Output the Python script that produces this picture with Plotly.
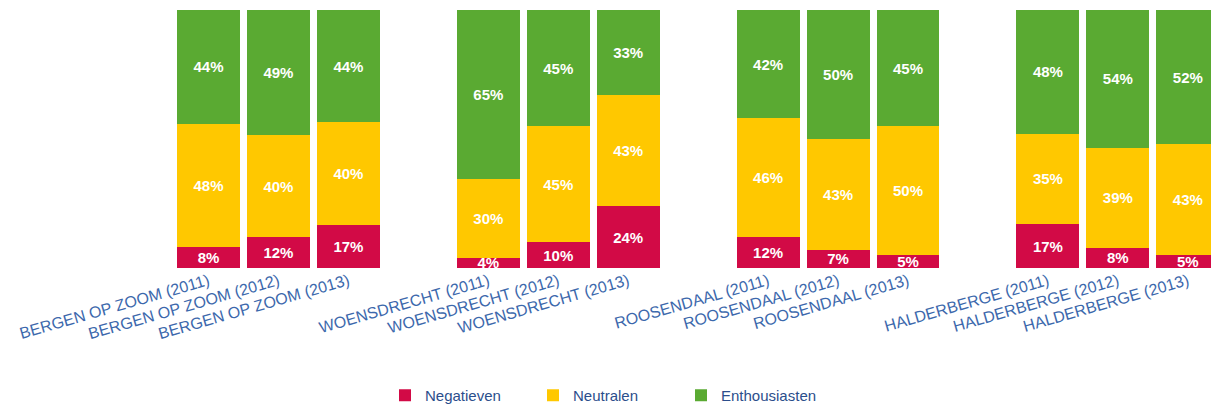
import plotly.graph_objects as go

categories = [
    "BERGEN OP ZOOM (2011)", "BERGEN OP ZOOM (2012)", "BERGEN OP ZOOM (2013)",
    "WOENSDRECHT (2011)", "WOENSDRECHT (2012)", "WOENSDRECHT (2013)",
    "ROOSENDAAL (2011)", "ROOSENDAAL (2012)", "ROOSENDAAL (2013)",
    "HALDERBERGE (2011)", "HALDERBERGE (2012)", "HALDERBERGE (2013)",
]
# slot index of each bar (an empty slot separates the municipalities)
slots = [0, 1, 2, 4, 5, 6, 8, 9, 10, 12, 13, 14]

negatieven = [8, 12, 17, 4, 10, 24, 12, 7, 5, 17, 8, 5]
neutralen = [48, 40, 40, 30, 45, 43, 46, 43, 50, 35, 39, 43]
enthousiasten = [44, 49, 44, 65, 45, 33, 42, 50, 45, 48, 54, 52]

series = [
    ("Negatieven", negatieven, "#D20A46"),
    ("Neutralen", neutralen, "#FFC800"),
    ("Enthousiasten", enthousiasten, "#5AAA32"),
]

fig = go.Figure()
for name, vals, color in series:
    fig.add_trace(go.Bar(
        x=slots, y=vals, name=name,
        marker=dict(color=color, line=dict(width=0)),
        width=0.9,
        text=[f"{v}%" for v in vals],
        texttemplate="%{text}",
        textposition="inside",
        insidetextanchor="middle",
        constraintext="none",
        textangle=0,
        textfont=dict(color="white", size=15, family="Liberation Sans, Arial", weight="bold"),
        cliponaxis=True,
        hoverinfo="skip",
    ))

fig.update_layout(
    barmode="stack",
    barnorm="percent",
    width=1211, height=412,
    margin=dict(l=0, r=0, t=10, b=140),
    paper_bgcolor="white", plot_bgcolor="white",
    font=dict(family="Liberation Sans, Arial"),
    xaxis=dict(
        tickmode="array", tickvals=slots, ticktext=categories,
        tickangle=-16, ticks="", showline=False, showgrid=False, zeroline=False,
        range=[-208.5 / 69.95, (1211 - 208.5) / 69.95],
        tickfont=dict(size=16, color="#3C68AC"),
    ),
    yaxis=dict(visible=False, range=[0, 100]),
    legend=dict(
        orientation="h", x=607 / 1211, xanchor="center",
        y=-0.496, yanchor="middle",
        traceorder="normal",
        font=dict(size=15, color="#2B4E8C"),
        entrywidth=103, entrywidthmode="pixels",
        itemwidth=30,
    ),
    showlegend=True,
)

fig.write_html("out.html")
